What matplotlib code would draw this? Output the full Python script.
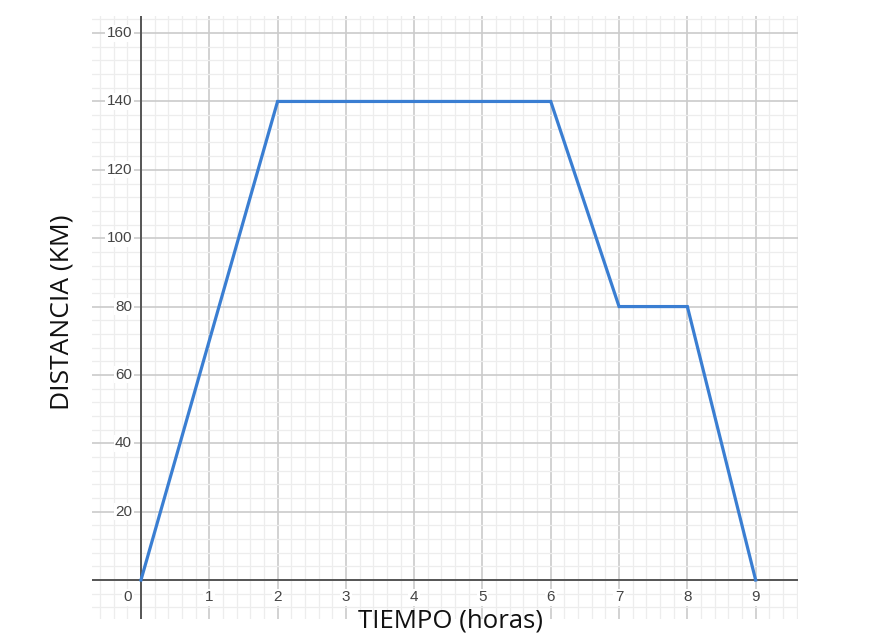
import matplotlib
matplotlib.use("Agg")
import matplotlib.pyplot as plt
import numpy as np

# Data
tiempo = [0, 2, 6, 7, 8, 9]
distancia = [0, 140, 140, 80, 80, 0]
x_tick_values = [1, 2, 3, 4, 5, 6, 7, 8, 9]
y_tick_values = [20, 40, 60, 80, 100, 120, 140, 160]
x_label = "TIEMPO (horas)"
y_label = "DISTANCIA (KM)"

fig = plt.figure(figsize=(8.86, 6.36), dpi=100)
ax = fig.add_axes([92/886, 17/636, 706/886, 603/636])
ax.set_xlim(-0.717, 9.62)
ax.set_ylim(-11.4, 165)

ax.set_xticks(np.arange(-0, 10, 1))
ax.set_xticks(np.arange(-0.6, 9.7, 0.2), minor=True)
ax.set_yticks(np.arange(0, 170, 20))
ax.set_yticks(np.arange(-8, 166, 4), minor=True)
ax.grid(which='minor', color='#ededed', linewidth=0.9, zorder=0)
ax.grid(which='major', color='#cbcbcb', linewidth=1.2, zorder=0)
ax.tick_params(which='both', length=0, labelbottom=False, labelleft=False)
for s in ax.spines.values():
    s.set_visible(False)

ax.axhline(0, color='#555555', linewidth=1.4, zorder=2)
ax.axvline(0, color='#555555', linewidth=1.4, zorder=2)

ax.plot(tiempo, distancia, color='#3a7ed2', linewidth=2.3, zorder=3,
        solid_joinstyle='miter')

bb = dict(boxstyle='square,pad=0.1', facecolor='white', edgecolor='none')
for xv in x_tick_values:
    ax.text(xv, -3.0, str(xv), ha='center', va='top', fontsize=11,
            color='#444444', family='Liberation Sans', bbox=bb, zorder=4)
for yv in y_tick_values:
    ax.text(-0.13, yv, str(yv), ha='right', va='center', fontsize=11,
            color='#444444', family='Liberation Sans', bbox=bb, zorder=4)
ax.text(-0.13, -3.0, "0", ha='right', va='top', fontsize=11,
        color='#444444', family='Liberation Sans', bbox=bb, zorder=4)

fig.text(450/886, 1 - 621/636, x_label, ha='center', va='center',
         fontsize=18.5, family='Open Sans', color='#111111')
fig.text(62/886, 1 - 312/636, y_label, ha='center', va='center',
         rotation=90, fontsize=19, family='Open Sans', color='#111111')

fig.savefig("out.png", dpi=100)
